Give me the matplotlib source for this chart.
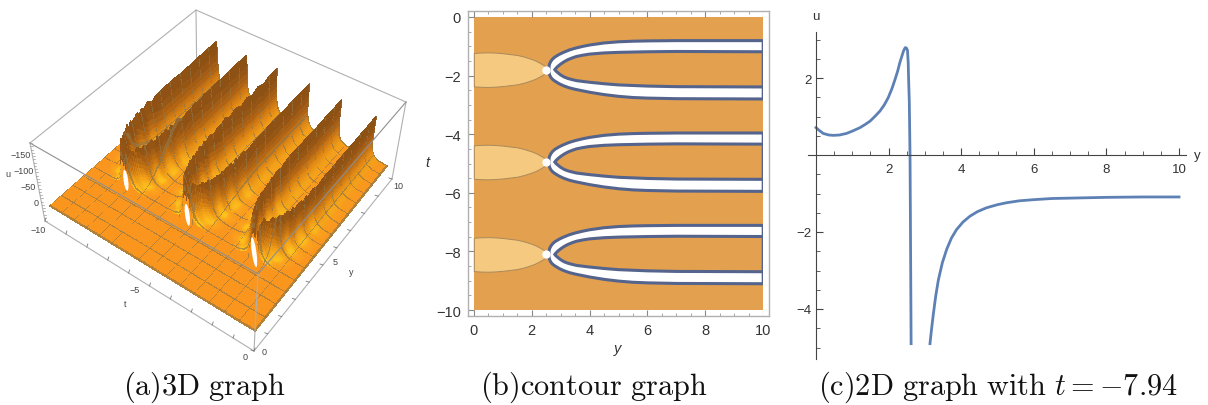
#!/usr/bin/python
import numpy as np
import matplotlib
matplotlib.use('Agg')
import matplotlib.pyplot as plt
from matplotlib.collections import PolyCollection
from matplotlib.patches import Ellipse

W, H = 1208, 406

# panel c, u(y) at t = -7.94
c_y1 = [0, 0.05, 0.1, 0.2, 0.35, 0.48, 0.65, 0.84, 1.0, 1.21, 1.35, 1.49, 1.62, 1.76, 1.88, 1.99, 2.09, 2.18, 2.25, 2.31, 2.37, 2.41, 2.44, 2.46, 2.49, 2.52, 2.54, 2.55, 2.57, 2.58, 2.59, 2.6, 2.61, 2.62]
c_u1 = [0.71, 0.67, 0.63, 0.56, 0.52, 0.51, 0.52, 0.56, 0.62, 0.71, 0.79, 0.88, 1.0, 1.14, 1.3, 1.49, 1.72, 1.97, 2.18, 2.4, 2.58, 2.7, 2.76, 2.79, 2.78, 2.72, 2.4, 2.0, 1.4, 0.7, 0.0, -1.5, -3.2, -4.9]
c_y2 = [3.14, 3.18, 3.23, 3.3, 3.37, 3.48, 3.6, 3.73, 3.87, 4.05, 4.24, 4.45, 4.7, 5.0, 5.25, 5.6, 6.0, 6.5, 7.0, 8.0, 9.0, 10.0]
c_u2 = [-4.9, -4.55, -4.15, -3.65, -3.25, -2.8, -2.45, -2.16, -1.94, -1.74, -1.59, -1.47, -1.37, -1.29, -1.24, -1.19, -1.16, -1.13, -1.12, -1.1, -1.09, -1.09]

# panel b, bands around each centre
centres = [-1.8, -4.95, -8.1]
hole_len = [30, 22, 21]
outer_y = [2.6, 2.6, 2.62, 2.66, 2.72, 2.8, 2.95, 3.1, 3.3, 3.5, 3.75, 4.0, 4.5, 5.0, 5.5, 6.0, 7.0, 10.0]
outer_top = [0.03, 0.12, 0.2, 0.28, 0.36, 0.43, 0.52, 0.59, 0.67, 0.73, 0.79, 0.84, 0.91, 0.95, 0.97, 0.98, 0.99, 0.99]
outer_bot = [-0.03, -0.1, -0.18, -0.26, -0.33, -0.39, -0.48, -0.55, -0.62, -0.67, -0.72, -0.77, -0.85, -0.91, -0.95, -0.97, -0.99, -1.0]
inner_y = [2.8, 2.84, 2.9, 3.0, 3.12, 3.25, 3.4, 3.55, 3.75, 4.0, 4.5, 5.0, 6.0, 7.0, 10.0]
inner_top = [0.0, 0.05, 0.11, 0.19, 0.27, 0.34, 0.4, 0.45, 0.49, 0.53, 0.57, 0.59, 0.61, 0.62, 0.61]
inner_bot = [0.0, -0.05, -0.1, -0.18, -0.25, -0.3, -0.34, -0.375, -0.4, -0.43, -0.48, -0.52, -0.56, -0.58, -0.59]
blob_y = [0, 0.25, 0.5, 0.75, 1.0, 1.25, 1.5, 1.75, 2.0, 2.15, 2.3, 2.42, 2.52, 2.6]
blob_h = [0.57, 0.585, 0.59, 0.58, 0.56, 0.53, 0.5, 0.44, 0.36, 0.3, 0.22, 0.15, 0.08, 0.0]

# panel a, ridge crests (fraction of box height) along y
crest_y = [2.6, 2.7, 2.8, 2.95, 3.1, 3.25, 3.4, 3.55, 3.7, 3.85, 4.0, 4.2, 4.4, 4.6, 4.8, 5.0, 5.25, 5.5, 5.75, 6.0, 6.3, 6.6, 7.0, 7.4, 7.8, 8.2, 8.6, 9.0, 9.4, 9.8, 10.0]
crest_a = [0.42, 0.55, 0.6, 0.57, 0.6, 0.56, 0.62, 0.58, 0.66, 0.58, 0.64, 0.6, 0.65, 0.62, 0.64, 0.62, 0.66, 0.63, 0.65, 0.63, 0.65, 0.64, 0.65, 0.64, 0.65, 0.64, 0.66, 0.65, 0.66, 0.66, 0.66]
crest_b = [0.42, 0.56, 0.6, 0.57, 0.61, 0.56, 0.6, 0.57, 0.62, 0.56, 0.61, 0.58, 0.62, 0.58, 0.61, 0.6, 0.63, 0.6, 0.63, 0.61, 0.63, 0.62, 0.64, 0.63, 0.65, 0.64, 0.65, 0.65, 0.66, 0.66, 0.66]
crest_c = [0.42, 0.56, 0.61, 0.58, 0.6, 0.57, 0.61, 0.57, 0.61, 0.58, 0.62, 0.59, 0.63, 0.6, 0.63, 0.6, 0.63, 0.61, 0.64, 0.61, 0.65, 0.6, 0.65, 0.6, 0.65, 0.61, 0.66, 0.61, 0.66, 0.65, 0.66]
crest_d = [0.42, 0.57, 0.61, 0.58, 0.6, 0.57, 0.6, 0.57, 0.6, 0.56, 0.6, 0.58, 0.61, 0.58, 0.61, 0.6, 0.61, 0.6, 0.62, 0.61, 0.62, 0.61, 0.63, 0.62, 0.63, 0.63, 0.64, 0.64, 0.65, 0.65, 0.65]
crest_e = [0.42, 0.57, 0.62, 0.59, 0.61, 0.57, 0.6, 0.56, 0.6, 0.56, 0.6, 0.57, 0.6, 0.58, 0.6, 0.59, 0.61, 0.6, 0.61, 0.61, 0.61, 0.61, 0.61, 0.61, 0.61, 0.61, 0.62, 0.62, 0.62, 0.63, 0.63]
crest_f = [0.42, 0.6, 0.66, 0.62, 0.65, 0.6, 0.64, 0.58, 0.63, 0.57, 0.61, 0.56, 0.6, 0.56, 0.59, 0.57, 0.6, 0.58, 0.6, 0.59, 0.6, 0.59, 0.6, 0.6, 0.6, 0.6, 0.61, 0.61, 0.61, 0.62, 0.62]
# how much yellow shows at the ridge foot
glow = [1.0, 0.9, 0.6, 0.9, 0.8, 0.35, 0.35, 0.9, 0.9, 0.35, 0.35, 0.8, 0.75, 0.3, 0.3, 0.7, 0.55, 0.3, 0.3, 0.35, 0.4, 0.3, 0.3, 0.25, 0.25, 0.2, 0.2, 0.2, 0.2, 0.2, 0.2]
ridge_y = [2.6, 2.8, 3.0, 3.5, 4.0, 5.0, 6.0, 7.0, 10.0]
ridge_off = [0.08, 0.2, 0.38, 0.58, 0.68, 0.77, 0.8, 0.8, 0.8]
prof_d = [0, 0.03, 0.07, 0.12, 0.2, 0.35, 0.6, 1.0]
prof_h = [1.0, 0.85, 0.6, 0.38, 0.2, 0.08, 0.02, 0.0]

# box corners in pixels, order (t,y) = (-10,0), (0,0), (0,10), (-10,10)
floor_px = [(50, 207), (255, 332), (387, 167), (197, 78)]
top_px = [(30, 144), (258, 275), (406, 103), (196, 11)]
base_px = [(45, 222), (254, 352), (392, 180), (197, 92)]


def homography(dst):
    src = [(-10, 0), (0, 0), (0, 10), (-10, 10)]
    A, b = [], []
    for (s, r), (x, y) in zip(src, dst):
        A.append([s, r, 1, 0, 0, 0, -s * x, -r * x])
        A.append([0, 0, 0, s, r, 1, -s * y, -r * y])
        b += [x, y]
    return np.append(np.linalg.solve(np.array(A, float), np.array(b, float)), 1).reshape(3, 3)


H_floor = homography(floor_px)
H_top = homography(top_px)


def apply_h(M, t, y):
    d = M[2, 0] * t + M[2, 1] * y + M[2, 2]
    return (M[0, 0] * t + M[0, 1] * y + M[0, 2]) / d, (M[1, 0] * t + M[1, 1] * y + M[1, 2]) / d


def project(t, y, h):
    x0, y0 = apply_h(H_floor, t, y)
    x1, y1 = apply_h(H_top, t, y)
    return x0 + h * (x1 - x0), y0 + h * (y1 - y0)


def px_axes(left, top, right, bottom):
    return fig.add_axes([left / W, 1 - bottom / H, (right - left) / W, (bottom - top) / H])


plt.rcParams['mathtext.fontset'] = 'cm'
plt.rcParams['font.family'] = ['Liberation Sans', 'DejaVu Sans']
fig = plt.figure(figsize=(W / 100, H / 100), dpi=100)

# ---------- panel a
ax = px_axes(0, 0, W, H)
ax.set_xlim(0, W)
ax.set_ylim(H, 0)
ax.axis('off')

box_grey = '#b0b0b0'
bx, by = zip(*top_px)
ax.plot([bx[3], base_px[3][0]], [by[3], base_px[3][1]], color=box_grey, lw=0.8, zorder=1)
ax.plot([bx[0], bx[3], bx[2]], [by[0], by[3], by[2]], color=box_grey, lw=0.8, zorder=1)
ax.plot([bx[0], base_px[0][0]], [by[0], base_px[0][1]], color=box_grey, lw=0.8, zorder=1)
ax.plot([bx[2], base_px[2][0]], [by[2], base_px[2][1]], color=box_grey, lw=0.8, zorder=1)

tv = np.linspace(-10, 0, 401)
yv = np.linspace(0, 10, 201)
T, Y = np.meshgrid(tv, yv, indexing='ij')
Z = np.zeros_like(T)
S = np.zeros_like(T)
offs = np.interp(Y, ridge_y, ridge_off)
ridge_list = [(-8.1, -1, crest_a), (-8.1, 1, crest_b), (-4.95, -1, crest_c), (-4.95, 1, crest_d), (-1.8, -1, crest_e), (-1.8, 1, crest_f)]
for c, sign, crest in ridge_list:
    dist = np.abs(T - (c + sign * offs))
    part = np.interp(dist, prof_d, prof_h)
    part[Y < 2.6] = 0
    cr = np.interp(Y, crest_y, crest)
    Z = np.maximum(Z, part * cr)
    S = np.maximum(S, part)

g = np.interp(Y, crest_y, glow)
stops = [0, 0.05, 0.2, 0.45, 0.8]
rich = np.array([(250, 150, 30), (255, 200, 30), (250, 170, 25), (205, 120, 18), (150, 85, 20)], float) / 255
poor = np.array([(250, 150, 30), (240, 150, 25), (215, 125, 20), (170, 95, 20), (140, 80, 20)], float) / 255
G = np.dstack([g * np.interp(S, stops, rich[:, k]) + (1 - g) * np.interp(S, stops, poor[:, k]) for k in range(3)])

# mesh lines as darker cells
mesh_lines = np.arange(0, 16) * 10 / 15.0
line_col = np.array([0.56, 0.46, 0.28])
for m in mesh_lines:
    j = int(round(m / (yv[1] - yv[0])))
    j = min(j, G.shape[1] - 2)
    G[:, j, :] = 0.35 * G[:, j, :] + 0.65 * line_col
    i = int(round(m / (tv[1] - tv[0])))
    i = min(i, G.shape[0] - 2)
    G[i, :, :] = 0.35 * G[i, :, :] + 0.65 * line_col

PX, PY = project(T, Y, Z)
polys = []
cols = []
for i in range(len(tv) - 1):
    for j in range(len(yv) - 2, -1, -1):
        polys.append([(PX[i, j], PY[i, j]), (PX[i + 1, j], PY[i + 1, j]), (PX[i + 1, j + 1], PY[i + 1, j + 1]), (PX[i, j + 1], PY[i, j + 1])])
        cols.append(G[i, j])
pc = PolyCollection(polys, facecolors=cols, edgecolors=cols, linewidths=0.25, antialiaseds=False, zorder=2)
ax.add_collection(pc)

# white holes at the ridge starts
for c, hl in zip(centres, hole_len):
    hx, hy = project(c, 2.6, 0.12)
    ax.add_patch(Ellipse((hx, hy), 4.5, hl, angle=-8, facecolor='white', edgecolor='none', zorder=3))

ax.plot([bx[0], bx[1], bx[2]], [by[0], by[1], by[2]], color='#8f8f8f', lw=0.8, zorder=4)
ax.plot([bx[1], base_px[1][0]], [by[1], base_px[1][1]], color=box_grey, lw=0.8, zorder=4)
ax.plot([base_px[0][0], base_px[1][0], base_px[2][0]], [base_px[0][1], base_px[1][1], base_px[2][1]], color=box_grey, lw=0.8, zorder=4)

t_ticks = np.arange(0, 11)
for k in t_ticks:
    f = k / 10.0
    x0 = base_px[0][0] + f * (base_px[1][0] - base_px[0][0])
    y0 = base_px[0][1] + f * (base_px[1][1] - base_px[0][1])
    ax.plot([x0, x0 + 1], [y0, y0 - 3], color='#777777', lw=0.6, zorder=4)
    x1 = base_px[1][0] + f * (base_px[2][0] - base_px[1][0])
    y1 = base_px[1][1] + f * (base_px[2][1] - base_px[1][1])
    ax.plot([x1, x1 - 3], [y1, y1 - 1], color='#777777', lw=0.6, zorder=4)
for k in np.arange(0, 25):
    f = k / 24.0
    x0 = base_px[0][0] + f * (top_px[0][0] - base_px[0][0])
    y0 = base_px[0][1] + f * (top_px[0][1] - base_px[0][1])
    ax.plot([x0, x0 + 2], [y0, y0], color='#999999', lw=0.5, zorder=4)

small = dict(fontsize=6.5, color='#444444', ha='center', va='center')
ax.text(20.5, 156, '\u2212150', **small)
ax.text(23.5, 172, '\u2212100', **small)
ax.text(28.5, 188, '\u221250', **small)
ax.text(36, 204, '0', **small)
ax.text(8, 175, 'u', **small)
ax.text(38, 231, '\u221210', **small)
ax.text(135, 291, '\u22125', **small)
ax.text(125, 305, 't', **small)
ax.text(245, 358, '0', **small)
ax.text(264, 353, '0', **small)
ax.text(335, 263, '5', **small)
ax.text(351, 273, 'y', **small)
ax.text(398, 187, '10', **small)

# ---------- panel b
axb = px_axes(468, 12, 769, 317)
axb.set_xlim(-0.2, 10.2)
axb.set_ylim(-10.2, 0.2)
axb.set_facecolor('white')
axb.add_patch(plt.Rectangle((0, -10), 10, 10, facecolor='#e3a04e', edgecolor='none', zorder=1))
edge = '#55648c'
for c in centres:
    by_arr = np.array(blob_y)
    bh_arr = np.array(blob_h)
    axb.fill_between(by_arr, c + bh_arr, c - bh_arr, facecolor='#f5c97f', edgecolor='#a98a5c', lw=0.7, zorder=2)
    oy = np.array(outer_y)
    iy = np.array(inner_y)
    ox = np.r_[oy, oy[::-1]]
    ot = np.r_[c + np.array(outer_top), c + np.array(outer_bot)[::-1]]
    axb.fill(ox, ot, facecolor='white', edgecolor=edge, lw=2.2, zorder=3)
    ix = np.r_[iy, iy[::-1]]
    it = np.r_[c + np.array(inner_top), c + np.array(inner_bot)[::-1]]
    axb.fill(ix, it, facecolor='#e3a04e', edgecolor=edge, lw=2.2, zorder=4)
    axb.plot([2.5], [c], marker='o', ms=5, mfc='white', mec='white', zorder=5)
# cover band outline ends at right side
axb.add_patch(plt.Rectangle((10, -10.2), 0.2, 10.4, facecolor='white', edgecolor='none', zorder=6))
for s in axb.spines.values():
    s.set_color('#b0b0b0')
    s.set_linewidth(1.0)
    s.set_zorder(7)
axb.set_xticks([0, 2, 4, 6, 8, 10])
axb.set_xticks(np.arange(0, 10.1, 0.5), minor=True)
axb.set_yticks([0, -2, -4, -6, -8, -10])
axb.set_yticks(np.arange(-10, 0.1, 0.5), minor=True)
axb.set_yticklabels(['0', '\u22122', '\u22124', '\u22126', '\u22128', '\u221210'])
axb.tick_params(which='major', direction='in', length=4, width=0.8, color='#888888', labelsize=10.5, labelcolor='#333333', pad=5, top=True, right=True)
axb.tick_params(which='minor', direction='in', length=2, width=0.6, color='#999999', top=True, right=True)
fig.text(618 / W, 1 - 353 / H, 'y', fontsize=10.5, style='italic', color='#333333', ha='center', va='baseline')
fig.text(427 / W, 1 - 167 / H, 't', fontsize=10.5, style='italic', color='#333333', ha='center', va='baseline')

# ---------- panel c
axc = px_axes(808, 33, 1186, 360)
px_unit_x = 36.3
px_unit_y = 38.5
axc.set_xlim(-8 / px_unit_x, 370 / px_unit_x)
axc.set_ylim(-204 / px_unit_y, 123 / px_unit_y)
axc.patch.set_alpha(0)
axc.plot(c_y1, c_u1, color='#5e81b5', lw=2.0, solid_joinstyle='round')
axc.plot(c_y2, c_u2, color='#5e81b5', lw=2.0, solid_joinstyle='round')
axc.spines['top'].set_visible(False)
axc.spines['right'].set_visible(False)
axc.spines['left'].set_position(('data', 0))
axc.spines['bottom'].set_position(('data', 0))
axc.spines['left'].set_color('#444444')
axc.spines['bottom'].set_color('#444444')
axc.set_xticks([2, 4, 6, 8, 10])
axc.set_xticks(np.arange(0.5, 10.1, 0.5), minor=True)
axc.set_yticks([2, -2, -4])
axc.set_yticks(np.arange(-5, 3.1, 0.5), minor=True)
axc.set_yticklabels(['2', '\u22122', '\u22124'])
axc.tick_params(axis='x', which='major', direction='in', length=5, width=0.8, color='#444444', labelsize=9.5, labelcolor='#333333', pad=6)
axc.tick_params(axis='x', which='minor', direction='in', length=3, width=0.6, color='#444444')
axc.tick_params(axis='y', which='major', direction='in', length=5, width=0.8, color='#444444', labelsize=9.5, labelcolor='#333333', pad=3)
axc.tick_params(axis='y', which='minor', direction='in', length=3, width=0.6, color='#444444')
fig.text(816 / W, 1 - 20 / H, 'u', fontsize=9.5, color='#333333', ha='center', va='baseline')
fig.text(1197 / W, 1 - 159 / H, 'y', fontsize=9.5, color='#333333', ha='center', va='baseline')

# ---------- captions
cap = dict(fontsize=21.8, color='#111111', ha='center', va='baseline')
fig.text(204 / W, 1 - 395 / H, r'$\mathrm{(a)3D\ graph}$', **cap)
fig.text(594 / W, 1 - 395 / H, r'$\mathrm{(b)contour\ graph}$', **cap)
fig.text(998 / W, 1 - 395 / H, r'$\mathrm{(c)2D\ graph\ with\ }t=-7.94$', **cap)

fig.savefig('out.png', dpi=100)
